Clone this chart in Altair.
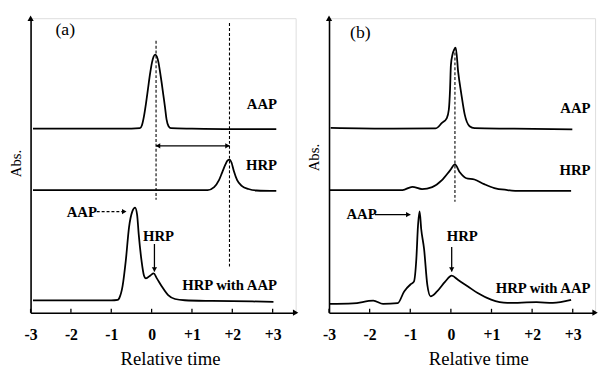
import altair as alt
import pandas as pd

FONT = "Liberation Serif"

# ---------------- data ----------------
TICKS = [-3, -2, -1, 0, 1, 2, 3]

# Panel (a)
A_AAP_X = [-2.94, -1.5, -0.5, -0.29, -0.24, -0.19, -0.14, -0.09, -0.04, 0.01, 0.05, 0.09, 0.13, 0.17, 0.21, 0.25, 0.29, 0.33, 0.37, 0.42, 0.48, 1.0, 2.0, 3.09]
A_AAP_Y = [187.5, 187.5, 187.5, 188, 191, 200, 213, 228, 243, 255, 261, 263, 261, 255, 245, 234, 222, 210, 197, 190, 188, 187.5, 187, 187]

A_HRP_X = [-2.94, 0.0, 1.0, 1.39, 1.55, 1.67, 1.75, 1.83, 1.88, 1.93, 1.98, 2.04, 2.12, 2.24, 2.40, 2.60, 3.09]
A_HRP_Y = [125, 125, 125, 125, 128, 135, 143, 151, 155, 156, 153, 144, 135, 129, 126, 124.5, 124]

A_MIX_X = [-2.94, -2.0, -1.0, -0.84, -0.80, -0.72, -0.64, -0.56, -0.48, -0.41, -0.36, -0.32, -0.25, -0.19, -0.14, -0.03, 0.05, 0.13, 0.25, 0.41, 0.58, 0.82, 1.5, 2.5, 3.02]
A_MIX_Y = [12.5, 12.5, 12.5, 13, 15, 27, 53, 87, 103, 107, 100, 80, 53, 38, 35, 38, 40, 35, 27, 18, 14, 12.7, 12, 11.5, 11]

# Panel (b)
B_AAP_X = [-2.96, -1.43, -0.38, -0.22, -0.10, -0.05, -0.02, 0.00, 0.04, 0.08, 0.12, 0.18, 0.26, 0.34, 0.46, 0.58, 1.5, 2.99]
B_AAP_Y = [188.3, 187.5, 187.7, 193.3, 198.3, 207, 228, 252, 263, 268, 270, 245, 222, 202, 190, 188, 187.5, 186.7]

B_HRP_X = [-3.0, -1.19, -0.95, -0.71, -0.46, -0.22, -0.02, 0.10, 0.22, 0.38, 0.58, 0.82, 1.07, 1.39, 1.71, 2.96]
B_HRP_Y = [125, 125, 128.3, 126, 128, 135, 145, 151, 143, 137, 135.7, 131, 127, 125, 124, 124]

B_MIX_X = [-3.0, -2.41, -1.91, -1.67, -1.31, -1.15, -0.99, -0.91, -0.85, -0.81, -0.77, -0.73, -0.66, -0.58, -0.50, -0.34, -0.14, 0.02, 0.18, 0.42, 0.66, 0.99, 1.39, 2.11, 2.51, 2.96]
B_MIX_Y = [9, 9.5, 12.3, 9, 9.7, 21.7, 29, 31.7, 55, 88.3, 103.3, 85, 65, 28.3, 16.7, 21.7, 31.7, 37.7, 33.3, 26.7, 20, 13.3, 10, 10.7, 10, 13]

TRACE_LABELS = ["AAP", "HRP", "HRP with AAP"]
A_LABEL_X = [3.11, 3.11, 3.11]
A_LABEL_Y = [213, 150, 28]
B_LABEL_X = [3.44, 3.44, 3.44]
B_LABEL_Y = [208, 145, 25]

# dashed vertical marker lines: x, y from, y to
A_VLINE_X = [0.11, 1.93]
A_VLINE_Y1 = [277, 295]
A_VLINE_Y2 = [115, 47]
B_VLINE_X = [0.10]
B_VLINE_Y1 = [270]
B_VLINE_Y2 = [113]

# double arrow in (a)
A_DARROW = {"x1": 0.11, "x2": 1.93, "y": 170}

# annotations: text, x, y
A_ANN_TEXT = ["AAP", "HRP"]
A_ANN_X = [-1.73, 0.17]
A_ANN_Y = [103, 78]
B_ANN_TEXT = ["AAP", "HRP"]
B_ANN_X = [-2.2, 0.28]
B_ANN_Y = [100, 78]

# annotation arrows: horizontal (x1 -> x2 at y), vertical (x at y1 -> y2)
A_HARROW = {"x1": -1.36, "x2": -0.63, "y": 103}
A_VARROW = {"x": 0.07, "y1": 70, "y2": 42}
B_HARROW = {"x1": -1.87, "x2": -1.0, "y": 100}
B_VARROW = {"x": 0.02, "y1": 67, "y2": 42}

PANEL_LABELS = ["(a)", "(b)"]
PANEL_LABEL_X = [-2.14, -2.23]
PANEL_LABEL_Y = [288, 285]

ABS_Y = [152, 158]

XMAX = [3.57, 3.55]
WIDTHS = [270, 271]
HEIGHT = 300
TITLE_X = [142, 152]


def build_panel(i, traces, labels_x, labels_y, vx, vy1, vy2, ann_t, ann_x, ann_y,
                harrow, harrow_dash, varrow, darrow=None):
    xs = alt.Scale(domain=[-3, XMAX[i]], nice=False, zero=False)
    ys = alt.Scale(domain=[0, 300], nice=False, zero=False)
    xaxis = alt.Axis(values=TICKS, labelExpr="datum.value > 0 ? '+' + datum.value : '' + datum.value",
                     ticks=False, grid=False, domainColor="black", domainWidth=1.6,
                     labelFont=FONT, labelFontSize=16, labelFontWeight="bold", labelColor="black",
                     labelPadding=14, labelFlush=False, labelOverlap=False, labelBound=False,
                     title="Relative time", titleFont=FONT, titleFontSize=19, titleFontWeight="normal",
                     titleColor="black", titlePadding=8, titleX=TITLE_X[i])
    yaxis = alt.Axis(labels=False, ticks=False, title=None, grid=False,
                     domainColor="black", domainWidth=1.6)
    X = lambda f: alt.X(f, type="quantitative", scale=xs, axis=xaxis)
    Y = lambda f: alt.Y(f, type="quantitative", scale=ys, axis=yaxis)

    rows = []
    for name, (tx, ty) in traces.items():
        for a, b in zip(tx, ty):
            rows.append({"t": a, "v": b, "trace": name})
    tdf = pd.DataFrame(rows)
    lines = alt.Chart(tdf).mark_line(color="black", strokeWidth=1.8, interpolate="monotone").encode(
        x=X("t"), y=Y("v"), detail="trace:N")

    ticks = alt.Chart(pd.DataFrame({"t": TICKS})).mark_rule(color="black", strokeWidth=1.3).encode(
        x=X("t"), y=alt.value(HEIGHT - 4), y2=alt.value(HEIGHT))

    vdf = pd.DataFrame({"t": vx, "v": vy1, "v2": vy2})
    vlines = alt.Chart(vdf).mark_rule(color="black", strokeWidth=1.1, strokeDash=[3, 2]).encode(
        x=X("t"), y=Y("v"), y2="v2")

    ldf = pd.DataFrame({"t": labels_x, "v": labels_y, "txt": TRACE_LABELS})
    labels = alt.Chart(ldf).mark_text(font=FONT, fontSize=15, fontWeight="bold", align="right",
                                      baseline="middle", color="black").encode(
        x=X("t"), y=Y("v"), text="txt:N")

    adf = pd.DataFrame({"t": ann_x, "v": ann_y, "txt": ann_t})
    ann = alt.Chart(adf).mark_text(font=FONT, fontSize=15, fontWeight="bold", align="center",
                                   baseline="middle", color="black").encode(
        x=X("t"), y=Y("v"), text="txt:N")

    pdf = pd.DataFrame({"t": [PANEL_LABEL_X[i]], "v": [PANEL_LABEL_Y[i]], "txt": [PANEL_LABELS[i]]})
    plab = alt.Chart(pdf).mark_text(font=FONT, fontSize=18, align="center", baseline="middle",
                                    color="black").encode(x=X("t"), y=Y("v"), text="txt:N")

    absdf = pd.DataFrame({"v": [ABS_Y[i]], "txt": ["Abs."]})
    abslab = alt.Chart(absdf).mark_text(font=FONT, fontSize=15, angle=270, align="center",
                                        baseline="middle", color="black").encode(
        x=alt.value(-15), y=Y("v"), text="txt:N")

    hdf = pd.DataFrame({"t": [harrow["x1"]], "t2": [harrow["x2"]], "v": [harrow["y"]]})
    hmark = {"color": "black", "strokeWidth": 1.3}
    if harrow_dash:
        hmark["strokeDash"] = [3, 2]
    hline = alt.Chart(hdf).mark_rule(**hmark).encode(x=X("t"), x2="t2", y=Y("v"))
    hhead = alt.Chart(pd.DataFrame({"t": [harrow["x2"]], "v": [harrow["y"]]})).mark_point(
        shape="triangle-right", filled=True, size=28, color="black", opacity=1, xOffset=-2).encode(
        x=X("t"), y=Y("v"))

    vadf = pd.DataFrame({"t": [varrow["x"]], "v": [varrow["y1"]], "v2": [varrow["y2"]]})
    vline = alt.Chart(vadf).mark_rule(color="black", strokeWidth=1.3).encode(x=X("t"), y=Y("v"), y2="v2")
    vhead = alt.Chart(pd.DataFrame({"t": [varrow["x"]], "v": [varrow["y2"]]})).mark_point(
        shape="triangle-down", filled=True, size=28, color="black", opacity=1, yOffset=-2).encode(
        x=X("t"), y=Y("v"))

    # axis arrowheads
    yhead = alt.Chart(pd.DataFrame({"t": [-3], "v": [300]})).mark_point(
        shape="triangle-up", filled=True, size=40, color="black", opacity=1).encode(x=X("t"), y=Y("v"))
    xhead = alt.Chart(pd.DataFrame({"t": [XMAX[i]], "v": [0]})).mark_point(
        shape="triangle-right", filled=True, size=40, color="black", opacity=1).encode(x=X("t"), y=Y("v"))

    layers = [lines, ticks, vlines, labels, ann, plab, abslab, hline, hhead, vline, vhead, yhead, xhead]

    if darrow is not None:
        ddf = pd.DataFrame({"t": [darrow["x1"]], "t2": [darrow["x2"]], "v": [darrow["y"]]})
        dline = alt.Chart(ddf).mark_rule(color="black", strokeWidth=1.3).encode(x=X("t"), x2="t2", y=Y("v"))
        dl = alt.Chart(pd.DataFrame({"t": [darrow["x1"]], "v": [darrow["y"]]})).mark_point(
            shape="triangle-left", filled=True, size=28, color="black", opacity=1, xOffset=2).encode(
            x=X("t"), y=Y("v"))
        dr = alt.Chart(pd.DataFrame({"t": [darrow["x2"]], "v": [darrow["y"]]})).mark_point(
            shape="triangle-right", filled=True, size=28, color="black", opacity=1, xOffset=-2).encode(
            x=X("t"), y=Y("v"))
        layers += [dline, dl, dr]

    return alt.layer(*layers).properties(width=WIDTHS[i], height=HEIGHT)


panel_a = build_panel(
    0,
    {"AAP": (A_AAP_X, A_AAP_Y), "HRP": (A_HRP_X, A_HRP_Y), "MIX": (A_MIX_X, A_MIX_Y)},
    A_LABEL_X, A_LABEL_Y, A_VLINE_X, A_VLINE_Y1, A_VLINE_Y2,
    A_ANN_TEXT, A_ANN_X, A_ANN_Y, A_HARROW, True, A_VARROW, darrow=A_DARROW)

panel_b = build_panel(
    1,
    {"AAP": (B_AAP_X, B_AAP_Y), "HRP": (B_HRP_X, B_HRP_Y), "MIX": (B_MIX_X, B_MIX_Y)},
    B_LABEL_X, B_LABEL_Y, B_VLINE_X, B_VLINE_Y1, B_VLINE_Y2,
    B_ANN_TEXT, B_ANN_X, B_ANN_Y, B_HARROW, False, B_VARROW)

chart = alt.hconcat(panel_a, panel_b, spacing=34, bounds="flush").properties(
    padding={"left": 0, "top": 3, "right": 0, "bottom": 0}
).configure_view(strokeWidth=0).configure(background="white")

chart.save("out.html", embed_options={"renderer": "svg", "actions": False})
